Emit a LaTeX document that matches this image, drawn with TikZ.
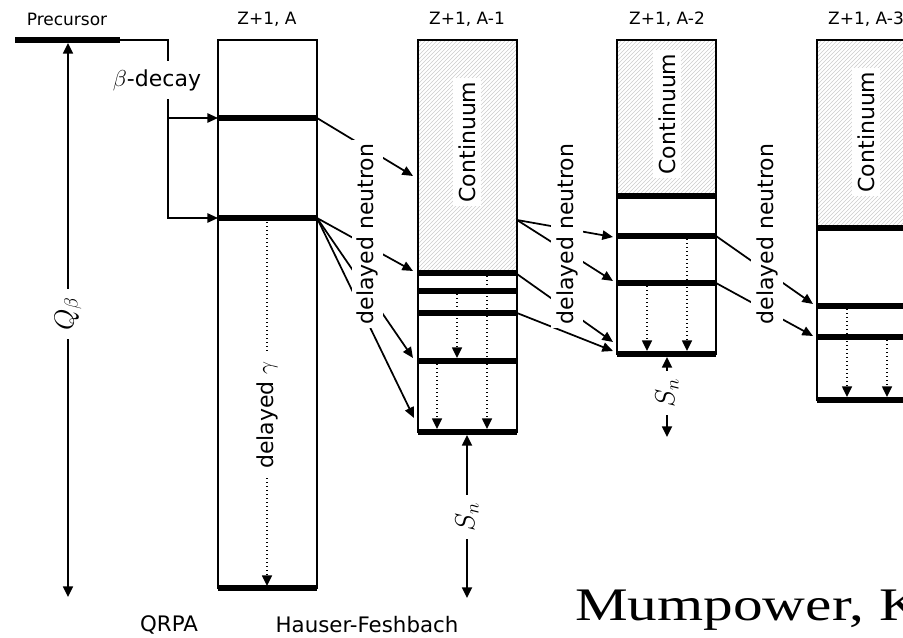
\documentclass[tikz,border=0pt]{standalone}
\usepackage{fontspec}
\setmainfont{DejaVu Sans}
\setsansfont{DejaVu Sans}
\newfontfamily\mumfont[FakeStretch=1.27]{Liberation Serif}
\usetikzlibrary{arrows.meta,patterns}
\begin{document}
\begin{tikzpicture}[x=0.75pt,y=-0.75pt,
  small/.style={font=\fontsize{12.75}{14}\selectfont},
  big/.style={font=\fontsize{16.5}{18}\selectfont},
  mathlbl/.style={font=\fontsize{21}{24}\selectfont, fill=white, rotate=90, inner xsep=6pt, inner ysep=2pt},
  wlbl/.style={big, fill=white, rotate=90, inner xsep=3pt, inner ysep=4pt},
  boxline/.style={line width=1.5pt},
  lvl/.style={line width=4.2pt},
  conn/.style={line width=1.3pt, -{Triangle[length=8pt,width=7pt]}},
  dots/.style={line width=1.1pt, dash pattern=on 1.1pt off 1.9pt, -{Triangle[length=8pt,width=7.5pt]}},
  spanarr/.style={line width=1.3pt, {Triangle[length=8pt,width=7.5pt]}-{Triangle[length=8pt,width=7.5pt]}},
  hatch/.style={pattern=north east lines, pattern color=gray!40},
]
\useasboundingbox (0,0) rectangle (903,638);
\clip (0,0) rectangle (903,638);

% ---- hatched continua
\fill[hatch] (418,40) rectangle (517,273);
\fill[hatch] (617,40) rectangle (716,196);
\fill[hatch] (817,40) rectangle (916,228);

% ---- boxes
\draw[boxline] (218,40) rectangle (317,588);
\draw[boxline] (418,40) rectangle (517,432);
\draw[boxline] (617,40) rectangle (716,354);
\draw[boxline] (817,40) rectangle (916,400);

% ---- levels
\draw[lvl] (218,118) -- (317,118);
\draw[lvl] (218,218) -- (317,218);
\draw[lvl] (218,588) -- (317,588);
\draw[lvl] (418,273) -- (517,273);
\draw[lvl] (418,291) -- (517,291);
\draw[lvl] (418,313) -- (517,313);
\draw[lvl] (418,361) -- (517,361);
\draw[lvl] (418,432) -- (517,432);
\draw[lvl] (617,196) -- (716,196);
\draw[lvl] (617,236) -- (716,236);
\draw[lvl] (617,283) -- (716,283);
\draw[lvl] (617,354) -- (716,354);
\draw[lvl] (817,228) -- (916,228);
\draw[lvl] (817,306) -- (916,306);
\draw[lvl] (817,337) -- (916,337);
\draw[lvl] (817,400) -- (916,400);

% ---- precursor level and beta decay
\draw[line width=4.5pt] (15,40) -- (120,40);
\coordinate (pe) at (120,40);
\coordinate (bj) at (168,40);
\coordinate (e1) at (218,118);
\coordinate (e2) at (218,218);
\draw[conn] (pe) -| (bj |- e2) -- (e2);
\draw[conn] (bj |- e1) -- (e1);

% ---- coordinates for neutron emission
\coordinate (a0) at (317,118);
\coordinate (a1) at (317,218);
\coordinate (ta1) at (413,176);
\coordinate (ta2) at (413,271);
\coordinate (ta3) at (413,358);
\coordinate (ta4) at (414,418);
\coordinate (b0) at (517,220);
\coordinate (b1) at (517,274);
\coordinate (b2) at (517,313);
\coordinate (tb1) at (613,237);
\coordinate (tb2) at (613,281);
\coordinate (tb3) at (613,342);
\coordinate (tb4) at (613,351);
\coordinate (c0) at (716,236);
\coordinate (c1) at (716,283);
\coordinate (tc1) at (813,304);
\coordinate (tc2) at (813,336);

\draw[conn] (a0) -- (ta1);
\draw[conn] (a1) -- (ta2);
\draw[conn] (a1) -- (ta3);
\draw[conn] (a1) -- (ta4);
\draw[conn] (b0) -- (tb1);
\draw[conn] (b0) -- (tb2);
\draw[conn] (b1) -- (tb3);
\draw[conn] (b2) -- (tb4);
\draw[conn] (c0) -- (tc1);
\draw[conn] (c1) -- (tc2);

% ---- gamma cascades (dotted)
\coordinate (g1s) at (267,222);  \coordinate (g1e) at (267,586);
\coordinate (g2s) at (457,294);  \coordinate (g2e) at (457,358);
\coordinate (g3s) at (487,276);  \coordinate (g3e) at (487,429);
\coordinate (g4s) at (437,364);  \coordinate (g4e) at (437,429);
\coordinate (g5s) at (687,239);  \coordinate (g5e) at (687,351);
\coordinate (g6s) at (647,286);  \coordinate (g6e) at (647,351);
\coordinate (g7s) at (847,309);  \coordinate (g7e) at (847,397);
\coordinate (g8s) at (887,340);  \coordinate (g8e) at (887,397);
\draw[dots] (g1s) -- (g1e);
\draw[dots] (g2s) -- (g2e);
\draw[dots] (g3s) -- (g3e);
\draw[dots] (g4s) -- (g4e);
\draw[dots] (g5s) -- (g5e);
\draw[dots] (g6s) -- (g6e);
\draw[dots] (g7s) -- (g7e);
\draw[dots] (g8s) -- (g8e);

% ---- energy spans
\coordinate (q1) at (68,43);   \coordinate (q2) at (68,597);
\coordinate (s1) at (467,435); \coordinate (s2) at (467,598);
\coordinate (s3) at (667,357); \coordinate (s4) at (667,437);
\draw[spanarr] (q1) -- (q2);
\draw[spanarr] (s1) -- (s2);
\draw[spanarr] (s3) -- (s4);

% ---- labels with white background
\node[big, fill=white, inner xsep=1pt, inner ysep=6pt] (bd) at (157,80) {$\beta$-decay};
\node[mathlbl] (qb) at (68,314) {$Q_\beta$};
\node[mathlbl] (sn1) at (467,517) {$S_n$};
\node[mathlbl] (sn2) at (667,393) {$S_n$};
\node[wlbl, inner xsep=6pt] (dg) at (267,415) {delayed $\gamma$};
\node[wlbl] (dn1) at (367.5,234) {delayed neutron};
\node[wlbl] (dn2) at (567,234) {delayed neutron};
\node[wlbl] (dn3) at (767,234) {delayed neutron};
\node[wlbl] (ct1) at (467,142) {Continuum};
\node[wlbl] (ct2) at (667,114) {Continuum};
\node[wlbl] (ct3) at (866,132) {Continuum};

% ---- titles
\node[small] (tp) at (67,19) {Precursor};
\node[small] (t0) at (267,19) {Z+1, A};
\node[small] (t1) at (467,19) {Z+1, A-1};
\node[small] (t2) at (667,19) {Z+1, A-2};
\node[small] (t3) at (866,19) {Z+1, A-3};

% ---- bottom labels
\node[font=\fontsize{16}{18}\selectfont] (qrpa) at (169,625) {QRPA};
\node[font=\fontsize{16}{18}\selectfont] (hf) at (367,625) {Hauser-Feshbach};
\node[anchor=base west, inner sep=0pt, font=\mumfont\fontsize{35}{40}\selectfont] (mum) at (575,620) {Mumpower, K};
\end{tikzpicture}
\end{document}
